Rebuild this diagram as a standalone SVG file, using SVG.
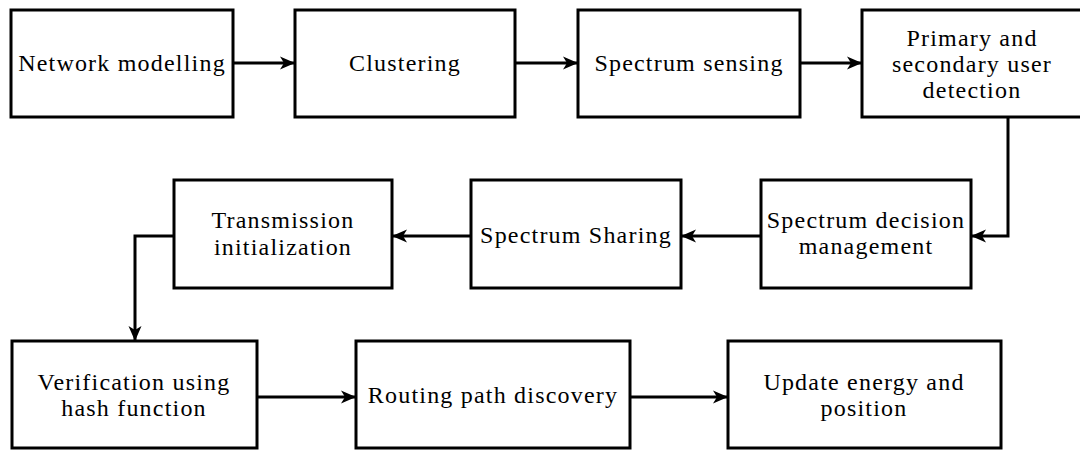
<svg xmlns="http://www.w3.org/2000/svg" width="1080" height="450" viewBox="0 0 1080 450">
<style>
.box{fill:#fff;stroke:#000;stroke-width:3}
.lbl{font-size:24px;letter-spacing:1.2px;fill:#000;text-anchor:middle}
.con{fill:none;stroke:#000;stroke-width:3}
</style>
<defs>
<marker id="arr" markerUnits="userSpaceOnUse" markerWidth="15" markerHeight="15" viewBox="0 0 15 15" refX="14" refY="7.5" orient="auto">
<path d="M0,1 L15,7.5 L0,14 L4,7.5 Z" fill="#000"/>
</marker>
</defs>
<rect width="1080" height="450" fill="#fff"/>
<g id="connectors">
<line class="con" x1="233" y1="63" x2="294" y2="63" marker-end="url(#arr)"/>
<line class="con" x1="515" y1="63" x2="577" y2="63" marker-end="url(#arr)"/>
<line class="con" x1="800" y1="63" x2="861" y2="63" marker-end="url(#arr)"/>
<polyline class="con" points="1008,117 1008,236 972,236" marker-end="url(#arr)"/>
<line class="con" x1="760" y1="236" x2="682" y2="236" marker-end="url(#arr)"/>
<line class="con" x1="470" y1="236" x2="393" y2="236" marker-end="url(#arr)"/>
<polyline class="con" points="174,236 135,236 135,340" marker-end="url(#arr)"/>
<line class="con" x1="257" y1="397" x2="355" y2="397" marker-end="url(#arr)"/>
<line class="con" x1="630" y1="397" x2="727" y2="397" marker-end="url(#arr)"/>
</g>
<g font-family="'Liberation Serif', 'Times New Roman', 'DejaVu Serif', serif">
<g id="n1"><rect class="box" x="11" y="10" width="222" height="107"/><text class="lbl" x="122" y="71">Network modelling</text></g>
<g id="n2"><rect class="box" x="295" y="10" width="220" height="107"/><text class="lbl" x="405" y="71">Clustering</text></g>
<g id="n3"><rect class="box" x="578" y="10" width="222" height="107"/><text class="lbl" x="689" y="71">Spectrum sensing</text></g>
<g id="n4"><rect class="box" x="862" y="10" width="222" height="107"/><text class="lbl" x="972" y="46">Primary and</text><text class="lbl" x="972" y="72">secondary user</text><text class="lbl" x="972" y="98">detection</text></g>
<g id="n5"><rect class="box" x="174" y="180" width="218" height="108"/><text class="lbl" x="283" y="228">Transmission</text><text class="lbl" x="283" y="255">initialization</text></g>
<g id="n6"><rect class="box" x="471" y="180" width="210" height="108"/><text class="lbl" x="576" y="243">Spectrum Sharing</text></g>
<g id="n7"><rect class="box" x="761" y="180" width="210" height="108"/><text class="lbl" x="866" y="228">Spectrum decision</text><text class="lbl" x="866" y="254">management</text></g>
<g id="n8"><rect class="box" x="12" y="341" width="245" height="107"/><text class="lbl" x="134" y="390">Verification using</text><text class="lbl" x="134" y="416">hash function</text></g>
<g id="n9"><rect class="box" x="356" y="341" width="274" height="107"/><text class="lbl" x="493" y="403">Routing path discovery</text></g>
<g id="n10"><rect class="box" x="728" y="341" width="273" height="107"/><text class="lbl" x="864" y="390">Update energy and</text><text class="lbl" x="864" y="416">position</text></g>
</g>
</svg>
